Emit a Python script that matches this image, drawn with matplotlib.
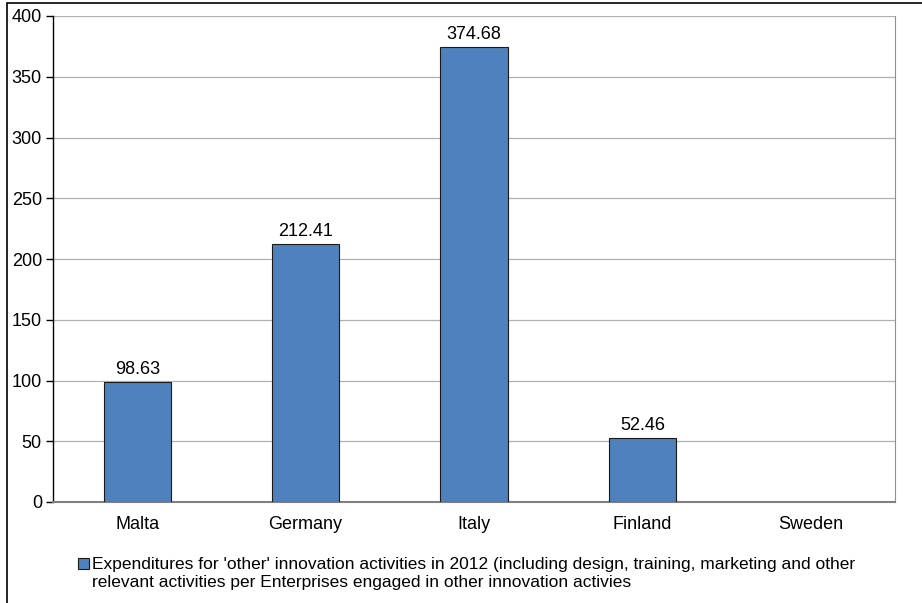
import matplotlib
matplotlib.use('Agg')
import matplotlib.pyplot as plt
from matplotlib.patches import Rectangle

plt.rcParams['font.family'] = ['Liberation Sans', 'DejaVu Sans']

countries = ['Malta', 'Germany', 'Italy', 'Finland', 'Sweden']
values = [98.63, 212.41, 374.68, 52.46, None]
value_labels = ['98.63', '212.41', '374.68', '52.46', '']
yticks = [0, 50, 100, 150, 200, 250, 300, 350, 400]
series_name = ("Expenditures for 'other' innovation activities in 2012 (including design, training, marketing and other\n"
               "relevant activities per Enterprises engaged in other innovation activies")

bar_color = '#4F81BD'

fig = plt.figure(figsize=(9.22, 6.03), dpi=100)
# outer chart frame
fig.patches.append(Rectangle((7 / 922, -0.01), 1.0, 1 - 3 / 603 + 0.01, transform=fig.transFigure,
                             fill=False, edgecolor='black', linewidth=1.2))

ax = fig.add_axes([53 / 922, 101 / 603, 842 / 922, 486 / 603])

x = list(range(len(countries)))
heights = [v if v is not None else 0 for v in values]
bars = ax.bar(x, heights, width=0.4, color=bar_color, edgecolor='#1a1a1a', linewidth=0.8, zorder=3)
for rect, v, lab in zip(bars, values, value_labels):
    if v is None:
        rect.set_visible(False)
        continue
    ax.annotate(lab, (rect.get_x() + rect.get_width() / 2, v), xytext=(0, 3), textcoords='offset points',
                ha='center', va='bottom', fontsize=13)

ax.set_xlim(-0.5, len(countries) - 0.5)
ax.set_ylim(0, 400)
ax.set_yticks(yticks)
ax.set_yticklabels([str(t) for t in yticks], fontsize=13)
ax.set_xticks(x)
ax.set_xticklabels(countries, fontsize=13)
ax.tick_params(axis='x', length=0, pad=10)
ax.tick_params(axis='y', direction='out', length=5, width=1, color='black', pad=3)
ax.yaxis.grid(True, color='#b0b0b0', linewidth=0.9, zorder=0)
ax.set_axisbelow(True)

ax.spines['left'].set_color('black')
ax.spines['left'].set_linewidth(1)
ax.spines['bottom'].set_color('#808080')
ax.spines['bottom'].set_linewidth(1.5)
ax.spines['right'].set_color('#909090')
ax.spines['top'].set_visible(False)

# legend: square key next to the first line of the two-line series name
fig.patches.append(Rectangle((78 / 922, 1 - 569 / 603), 11 / 922, 11 / 603, transform=fig.transFigure,
                             facecolor=bar_color, edgecolor='#1a1a1a', linewidth=0.8))
fig.text(92 / 922, 1 - 557 / 603, series_name, ha='left', va='top', fontsize=12.5, linespacing=1.28)

fig.savefig('out.png', dpi=100)
